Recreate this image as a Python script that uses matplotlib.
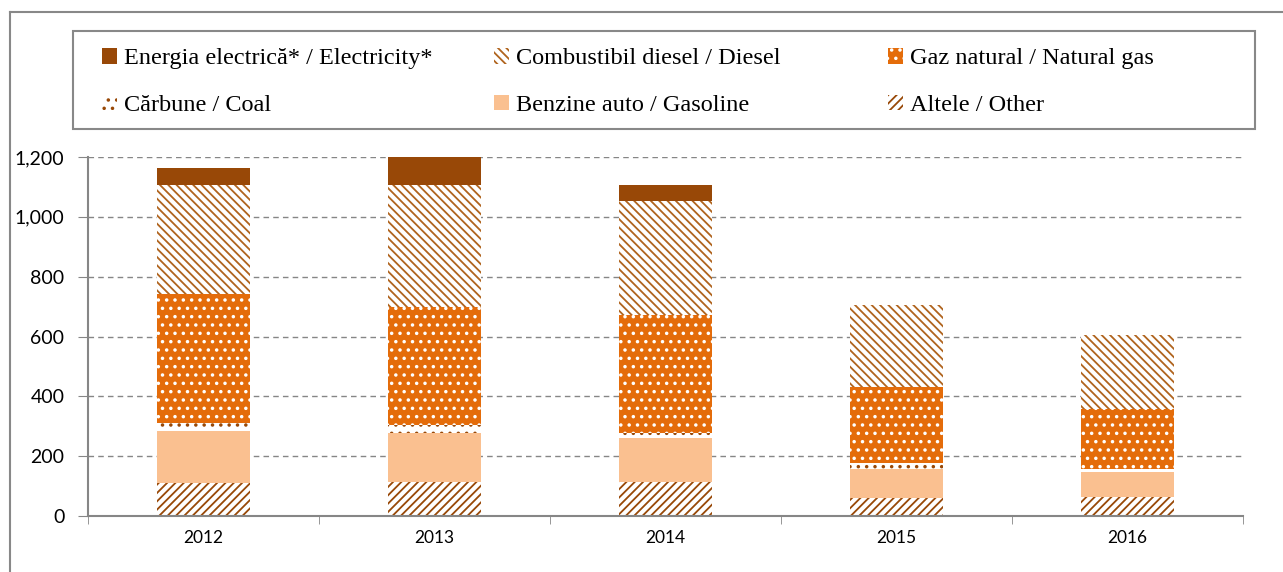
import matplotlib.pyplot as plt
import numpy as np
from matplotlib.lines import Line2D
from matplotlib.patches import Rectangle

years = ['2012', '2013', '2014', '2015', '2016']
other = [111, 115, 115, 59, 65]
gasoline = [173, 164, 145, 98, 83]
coal = [26, 25, 16, 19, 8]
natural_gas = [431, 396, 396, 256, 201]
diesel = [365, 406, 382, 273, 248]
electricity = [56, 94, 52, 0, 0]

labels = {
    'el': 'Energia electrică* / Electricity*',
    'ds': 'Combustibil diesel / Diesel',
    'gn': 'Gaz natural / Natural gas',
    'cb': 'Cărbune / Coal',
    'bz': 'Benzine auto / Gasoline',
    'ot': 'Altele / Other',
}

brown = '#984807'
plt.rcParams['hatch.linewidth'] = 1.3

fig = plt.figure(figsize=(12.83, 5.72), dpi=100)
ax = fig.add_axes([88 / 1283, 56 / 572, 1155 / 1283, 359 / 572])

x = np.arange(len(years))
w = 0.4
bottom = np.zeros(len(years))

# stiva de jos in sus
series = [
    ('ot', other, dict(facecolor='white', edgecolor=brown, hatch='////')),
    ('bz', gasoline, dict(facecolor='#FAC090', edgecolor='#FAC090')),
    ('cb', coal, dict(facecolor='white', edgecolor=brown, hatch='..')),
    ('gn', natural_gas, dict(facecolor='#E46C0A', edgecolor='white', hatch='..')),
    ('ds', diesel, dict(facecolor='white', edgecolor='#B0641E', hatch='\\\\\\\\')),
    ('el', electricity, dict(facecolor=brown, edgecolor=brown)),
]
bars = {}
for key, vals, st in series:
    bars[key] = ax.bar(x, vals, w, bottom=bottom, linewidth=0, **st)
    bottom += np.array(vals)

ax.set_xlim(-0.5, len(years) - 0.5)
ax.set_ylim(0, 1200)
ax.set_yticks(range(0, 1201, 200))
ax.set_yticklabels([f'{v:,}' for v in range(0, 1201, 200)], fontsize=14, family='Lato')
ax.set_xticks(x)
ax.set_xticklabels(years, fontsize=12.5, family='Lato')
ax.set_xticks(np.arange(-0.5, len(years)), minor=True)
ax.tick_params(axis='x', which='major', length=0, pad=10)
ax.tick_params(axis='x', which='minor', length=6, color='#868686')
ax.tick_params(axis='y', length=7, color='#868686', pad=10)
ax.grid(axis='y', color='#868686', linestyle=(0, (4, 3)), linewidth=1)
ax.set_axisbelow(True)
for s in ['top', 'right']:
    ax.spines[s].set_visible(False)
for s in ['left', 'bottom']:
    ax.spines[s].set_color('#868686')
    ax.spines[s].set_linewidth(1.5)

# legenda: trei coloane cu latime fixa
cols = [('el', 'cb'), ('ds', 'bz'), ('gn', 'ot')]
col_x = [90, 482, 876]
for i, (a, b) in enumerate(cols):
    lg = fig.legend([bars[a], bars[b]], [labels[a], labels[b]],
                    loc='upper left', bbox_to_anchor=(col_x[i] / 1283, 1 - 36 / 572),
                    frameon=False, handlelength=0.6, handleheight=0.6,
                    handletextpad=0.3, labelspacing=1.05, borderpad=0,
                    prop={'family': 'Liberation Serif', 'size': 17.5})
fig.add_artist(Rectangle((73 / 1283, 1 - 129 / 572), 1182 / 1283, 98 / 572,
                         transform=fig.transFigure, fill=False,
                         edgecolor='#888888', linewidth=1.5))

# cadrul exterior
fig.add_artist(Line2D([10 / 1283, 10 / 1283], [0, 1 - 12 / 572],
                      transform=fig.transFigure, color='#888888', linewidth=1.5))
fig.add_artist(Line2D([10 / 1283, 1], [1 - 12 / 572, 1 - 12 / 572],
                      transform=fig.transFigure, color='#888888', linewidth=1.5))

fig.savefig('out.png', dpi=100)
